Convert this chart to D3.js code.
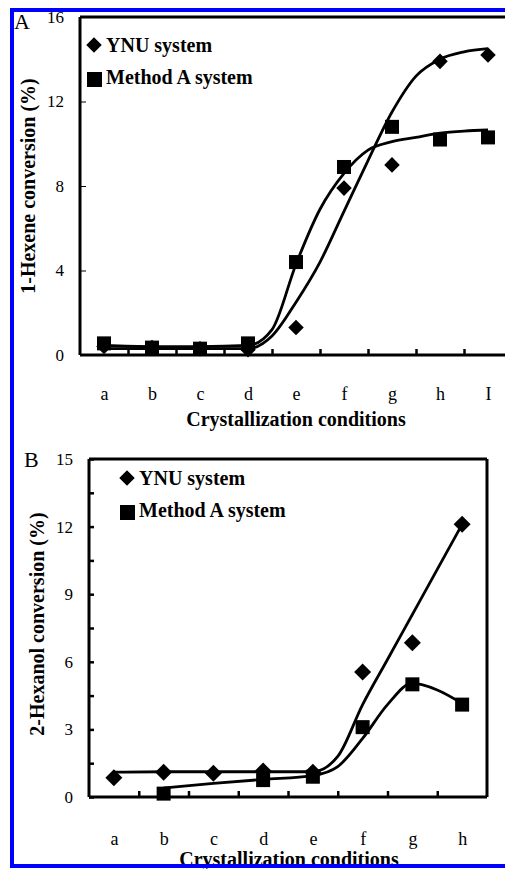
<!DOCTYPE html>
<html>
<head>
<meta charset="utf-8">
<script src="https://cdn.jsdelivr.net/npm/d3@7"></script>
<style>
  body { margin: 0; background: #fff; }
  svg { display: block; }
  text { font-family: "Liberation Serif", "Times New Roman", serif; fill: #000; }
</style>
</head>
<body>
<div class="chart"></div>
<script>
// panel A: 1-hexene conversion
const catsA = ["a", "b", "c", "d", "e", "f", "g", "h", "I"];
const ynuA = [0.4, 0.35, 0.3, 0.25, 1.3, 7.9, 9.0, 13.9, 14.2];
const methodA_A = [0.55, 0.35, 0.3, 0.55, 4.4, 8.9, 10.8, 10.2, 10.3];
// trend lines: [category index, value]
const ynuFitA = [[0, 0.3], [1, 0.3], [2, 0.3], [3, 0.3], [3.5, 0.9], [4, 2.5], [4.5, 4.4],
  [5, 6.8], [5.5, 9.2], [6, 11.5], [6.5, 13.2], [7, 14.0], [7.5, 14.35], [8, 14.5]];
const methodFitA = [[0, 0.45], [1, 0.4], [2, 0.4], [3, 0.45], [3.5, 1.2], [4, 4.3], [4.5, 6.9],
  [5, 8.6], [5.5, 9.7], [6, 10.1], [6.5, 10.3], [7, 10.5], [7.5, 10.6], [8, 10.65]];
const yTicksA = [0, 4, 8, 12, 16];

// panel B: 2-hexanol conversion
const catsB = ["a", "b", "c", "d", "e", "f", "g", "h"];
const ynuB = [0.85, 1.1, 1.05, 1.15, 1.1, 5.55, 6.85, 12.1];
const methodA_B = [null, 0.15, null, 0.75, 0.9, 3.1, 5.0, 4.1];
const ynuFitB = [[0, 1.1], [1, 1.12], [2, 1.12], [3, 1.12], [4, 1.12], [4.5, 1.8], [5, 4.1],
  [5.5, 6.1], [6, 8.1], [6.5, 10.1], [7, 12.1]];
const methodFitB = [[1, 0.4], [2, 0.6], [3, 0.78], [4, 0.95], [4.5, 1.35], [5, 2.6], [5.5, 4.1],
  [6, 5.05], [6.5, 4.75], [7, 4.15]];
const yTicksB = [0, 1.5, 3, 4.5, 6, 7.5, 9, 10.5, 12, 13.5, 15];
const yLabelsB = [0, 3, 6, 9, 12, 15];

const W = 505, H = 869;
const svg = d3.select(".chart").append("svg").attr("width", W).attr("height", H);

function panel(o) {
  const g = svg.append("g");
  const n = o.cats.length;
  const x = d3.scaleLinear().domain([-0.5, n - 0.5]).range([o.left, o.left + n * o.bw]);
  const y = d3.scaleLinear().domain([0, o.ymax]).range([o.bottom, o.top]);

  // y axis with inward ticks
  const yAxis = g.append("g").attr("transform", `translate(${o.left},0)`)
    .call(d3.axisLeft(y).tickValues(o.yTicks).tickSizeInner(-o.yTickLen).tickSizeOuter(0)
      .tickPadding(o.yTickLen + o.yPad)
      .tickFormat(d => o.yLabels.includes(d) ? d : ""));
  yAxis.select(".domain").remove();
  yAxis.selectAll("line").attr("stroke", "#000").attr("stroke-width", o.yTickW);
  yAxis.selectAll("text").style("font-size", "17px").style("font-family", "Liberation Serif");

  // x axis: boundary ticks pointing up, labels at category centres
  const bounds = d3.range(0.5, n - 1, 1);
  const xAxis = g.append("g").attr("transform", `translate(0,${o.bottom})`)
    .call(d3.axisBottom(x).tickValues(bounds).tickSizeInner(-6).tickSizeOuter(0).tickFormat(""));
  xAxis.select(".domain").remove();
  xAxis.selectAll("line").attr("stroke", "#000").attr("stroke-width", 2.5);

  const xLab = g.append("g").attr("transform", `translate(0,${o.bottom})`)
    .call(d3.axisBottom(x).tickValues(d3.range(n)).tickSize(0).tickPadding(o.xPad)
      .tickFormat(i => o.cats[i]));
  xLab.select(".domain").remove();
  xLab.selectAll("text").style("font-size", "18px").style("font-family", "Liberation Serif");

  // frame
  const fr = g.append("g").attr("fill", "none").attr("stroke", "#000").attr("stroke-width", 3);
  fr.append("line").attr("x1", o.left).attr("x2", o.left).attr("y1", o.top).attr("y2", o.bottom);
  fr.append("line").attr("x1", o.left).attr("x2", o.right).attr("y1", o.bottom).attr("y2", o.bottom);
  fr.append("line").attr("x1", o.left).attr("x2", o.right).attr("y1", o.top).attr("y2", o.top);
  if (o.rightFrame)
    fr.append("line").attr("x1", o.right).attr("x2", o.right).attr("y1", o.top).attr("y2", o.bottom);

  // trend lines
  const line = d3.line().x(d => x(d[0])).y(d => y(d[1])).curve(d3.curveMonotoneX);
  [o.ynuFit, o.methodFit].forEach(f => {
    g.append("path").attr("d", line(f)).attr("fill", "none")
      .attr("stroke", "#000").attr("stroke-width", 2.8);
  });

  // markers
  const sq = o.sq, dm = o.dm;
  g.append("g").selectAll("rect")
    .data(o.method.map((v, i) => [i, v]).filter(d => d[1] != null))
    .join("rect")
    .attr("x", d => x(d[0]) - sq / 2).attr("y", d => y(d[1]) - sq / 2)
    .attr("width", sq).attr("height", sq).attr("fill", "#000");
  g.append("g").selectAll("rect")
    .data(o.ynu.map((v, i) => [i, v]))
    .join("rect")
    .attr("x", -dm / 2).attr("y", -dm / 2).attr("width", dm).attr("height", dm)
    .attr("transform", d => `translate(${x(d[0])},${y(d[1])}) rotate(45)`)
    .attr("fill", "#000");

  // legend
  const lg = g.append("g");
  lg.append("rect").attr("x", -5.5).attr("y", -5.5).attr("width", 11).attr("height", 11)
    .attr("transform", `translate(${o.leg[0]},${o.leg[1]}) rotate(45)`);
  lg.append("text").attr("x", o.leg[0] + 12).attr("y", o.leg[1] + 7)
    .attr("font-weight", "bold").attr("font-size", 20).text("YNU system");
  lg.append("rect").attr("x", o.leg[0] - 7).attr("y", o.leg[1] + 27).attr("width", 15).attr("height", 15);
  lg.append("text").attr("x", o.leg[0] + 12).attr("y", o.leg[1] + 39)
    .attr("font-weight", "bold").attr("font-size", 20).text("Method A system");

  // titles
  g.append("text").attr("transform", `translate(${o.yTitle[0]},${o.yTitle[1]}) rotate(-90)`)
    .attr("text-anchor", "middle").attr("font-weight", "bold").attr("font-size", 20).text(o.yTitleText);
  g.append("text").attr("x", o.xTitle[0]).attr("y", o.xTitle[1])
    .attr("text-anchor", "middle").attr("font-weight", "bold").attr("font-size", 20)
    .text("Crystallization conditions");
  g.append("text").attr("x", o.tag[0]).attr("y", o.tag[1]).attr("font-size", 22).text(o.tagText);
}

panel({
  cats: catsA, ynu: ynuA, method: methodA_A, ynuFit: ynuFitA, methodFit: methodFitA,
  yTicks: yTicksA, yLabels: yTicksA, ymax: 16,
  left: 80, bw: 48, right: W, top: 17, bottom: 355, rightFrame: false,
  yTickLen: 6, yTickW: 1, yPad: 10, xPad: 32, sq: 14, dm: 11,
  leg: [94, 45], yTitle: [35, 186], yTitleText: "1-Hexene conversion (%)",
  xTitle: [296, 426], tag: [14, 29], tagText: "A"
});

panel({
  cats: catsB, ynu: ynuB, method: methodA_B, ynuFit: ynuFitB, methodFit: methodFitB,
  yTicks: yTicksB, yLabels: yLabelsB, ymax: 15,
  left: 89, bw: 49.75, right: 487, top: 459, bottom: 797, rightFrame: true,
  yTickLen: 5, yTickW: 2.5, yPad: 11, xPad: 35, sq: 14, dm: 12,
  leg: [127, 478], yTitle: [44, 624], yTitleText: "2-Hexanol conversion (%)",
  xTitle: [289, 866], tag: [24, 467], tagText: "B"
});

// blue border
const blue = svg.append("g").attr("fill", "#0000ff");
blue.append("rect").attr("x", 10).attr("y", 8).attr("width", W - 10).attr("height", 4);
blue.append("rect").attr("x", 10).attr("y", 8).attr("width", 4).attr("height", 860);
blue.append("rect").attr("x", 10).attr("y", 864).attr("width", W - 10).attr("height", 4);
</script>
</body>
</html>
